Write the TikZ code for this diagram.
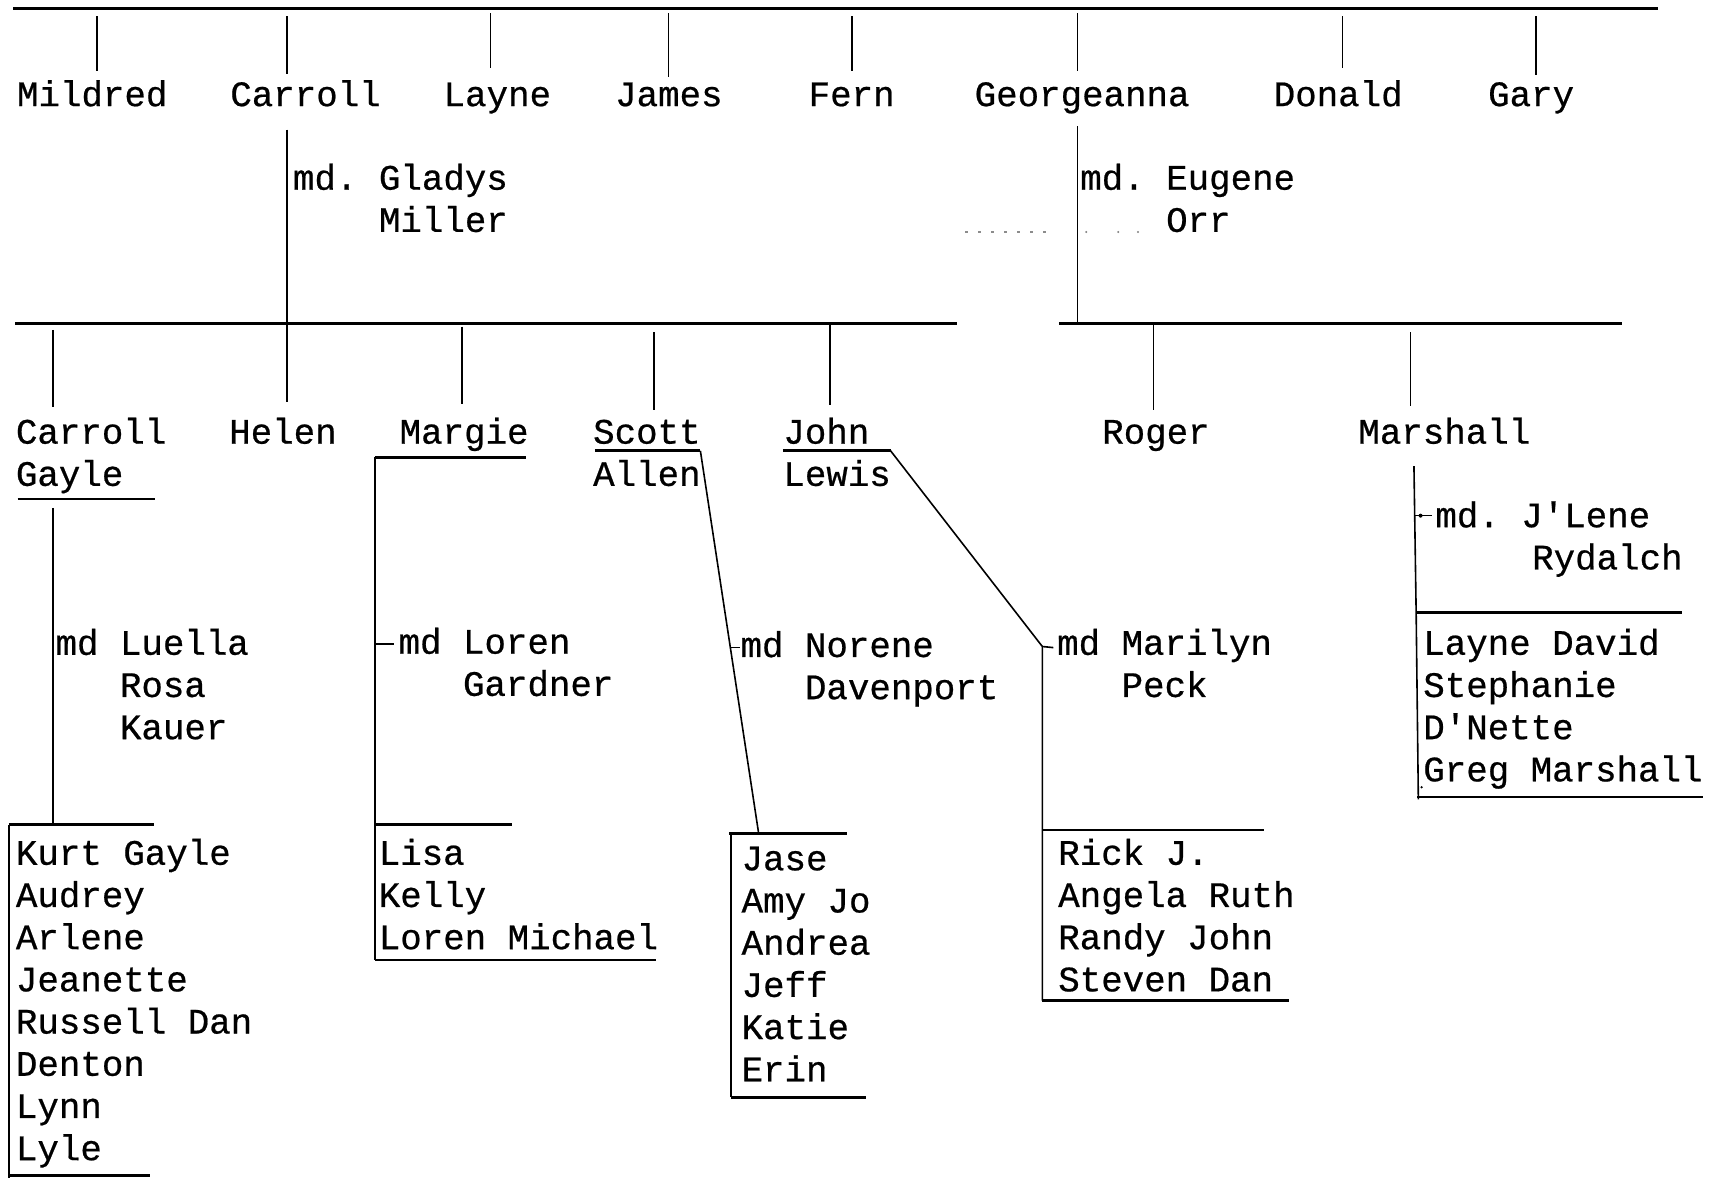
\documentclass[tikz,border=0pt]{standalone}
\usepackage{fontspec}
\setmonofont{Liberation Mono}[FakeBold=0.6]
\usetikzlibrary{calc}
\newcommand\Col[1]{\begin{tabular}[t]{@{}l@{}}#1\end{tabular}}
\begin{document}
\begin{tikzpicture}[x={(1.0995pt,0)}, y={(0,-1.0995pt)},
  nm/.style={anchor=base west, inner sep=0pt, outer sep=0pt,
    font=\ttfamily\fontsize{35.8pt}{42.2pt}\selectfont},
  hl/.style={line width=2.6pt},
  vl/.style={line width=1.6pt},
  faint/.style={draw=black!45, line width=1.2pt, dash pattern=on 3pt off 10pt}]
\useasboundingbox (0,0) rectangle (1568,1071);

% ---------- generation 1 ----------
\node[nm] (mildred) at (15.5,96.5) {Mildred};
\node[nm] (carroll) at (209.5,96.5) {Carroll};
\node[nm] (layne)   at (403.5,96.5) {Layne};
\node[nm] (james)   at (559.5,96.5) {James};
\node[nm] (fern)    at (735.5,96.5) {Fern};
\node[nm] (georg)   at (886.5,96.5) {Georgeanna};
\node[nm] (donald)  at (1158.5,96.5) {Donald};
\node[nm] (gary)    at (1353.5,96.5) {Gary};

\coordinate (topL) at (12,8);
\coordinate (topR) at (1508,8);
\draw[hl] (topL) -- (topR);
\foreach \n/\x/\a/\b in {mildred/88/15/65, carroll/261/15/67, layne/446/12/62,
    james/608/12/70, fern/775/15/65, georg/980/12/65, donald/1221/15/62, gary/1397/15/68}{
  \coordinate (\n-t) at (\x,\a);
  \coordinate (\n-b) at (\x,\b);
  \draw[vl] (\n-t) -- (\n-b);
}

% ---------- marriages of generation 1 ----------
\node[nm] (mdGladys) at (266.5,172.5) {\Col{md. Gladys\\\phantom{md. }Miller}};
\node[nm] (mdEugene) at (982.5,172.5) {\Col{md. Eugene\\\phantom{md. }Orr}};

\coordinate (lineAL) at (14,294);
\coordinate (lineAR) at (870,294);
\coordinate (lineBL) at (963,294);
\coordinate (lineBR) at (1475,294);
\coordinate (carDown) at (261,118);
\coordinate (carJoin) at (261,294);
\coordinate (geoDown) at (980,115);
\coordinate (geoJoin) at (980,294);
\draw[vl] (carDown) -- (carJoin);
\draw[vl] (geoDown) -- (geoJoin);
\draw[hl] (lineAL) -- (lineAR);
\draw[hl] (lineBL) -- (lineBR);

% faint stray marks
\draw[faint] (878,211) -- (952,211);
\foreach \x in {988,1017,1035}{ \fill[black!50] (\x,211) circle (1.1pt); }

% ---------- generation 2 ----------
\node[nm] (cgayle)   at (14.5,403.5)   {\Col{Carroll\\Gayle}};
\node[nm] (helen)    at (208.5,403.5)  {Helen};
\node[nm] (margie)   at (363.5,403.5)  {Margie};
\node[nm] (scott)    at (539.5,403.5)  {\Col{Scott\\Allen}};
\node[nm] (john)     at (712.5,403.5)  {\Col{John\\Lewis}};
\node[nm] (roger)    at (1002.5,403.5) {Roger};
\node[nm] (marshall) at (1235.5,403.5) {Marshall};

\foreach \n/\x/\a/\b in {cg/48/300/370, he/261/294/366, ma/420/297/367, sc/595/302/373,
    jo/755/296/368, ro/1049/296/373, mr/1283/302/369}{
  \coordinate (\n-t) at (\x,\a);
  \coordinate (\n-b) at (\x,\b);
  \draw[vl] (\n-t) -- (\n-b);
}

% ---------- Carroll Gayle branch ----------
\node[nm] (mdLuella) at (50.5,595.5) {\Col{md Luella\\\phantom{md }Rosa\\\phantom{md }Kauer}};
\node[nm] (kidsCG) at (14.5,786.5) {\Col{Kurt Gayle\\Audrey\\Arlene\\Jeanette\\Russell Dan\\Denton\\Lynn\\Lyle}};
\coordinate (cgU1) at (16,454);  \coordinate (cgU2) at (141,454);
\coordinate (cgV1) at (48,462);  \coordinate (cgV2) at (48,750);
\coordinate (cgB1) at (8,750);   \coordinate (cgB2) at (140,750);
\coordinate (cgB3) at (8,1071);  \coordinate (cgB4) at (8,1069); \coordinate (cgB5) at (136,1069);
\draw[hl] (cgU1) -- (cgU2);
\draw[vl] (cgV1) -- (cgV2);
\draw[hl] (cgB1) -- (cgB2);
\draw[vl] (cgB1) -- (cgB3);
\draw[hl] (cgB4) -- (cgB5);

% ---------- Margie branch ----------
\node[nm] (mdLoren) at (362.5,594.5) {\Col{md Loren\\\phantom{md }Gardner}};
\node[nm] (kidsM) at (344.5,786.5) {\Col{Lisa\\Kelly\\Loren Michael}};
\coordinate (mgU1) at (341,416); \coordinate (mgU2) at (478,416);
\coordinate (mgV2) at (341,873);
\coordinate (mgT)  at (341,586); \coordinate (mgT2) at (358,586);
\coordinate (mgK1) at (341,750); \coordinate (mgK2) at (466,750);
\coordinate (mgB2) at (597,873);
\draw[hl] (mgU1) -- (mgU2);
\draw[vl] (mgU1) -- (mgV2);
\draw[line width=2pt] (mgT) -- (mgT2);
\draw[hl] (mgK1) -- (mgK2);
\draw[hl] (mgV2) -- (mgB2);

% ---------- Scott branch ----------
\node[nm] (mdNorene) at (673.5,597.5) {\Col{md Norene\\\phantom{md }Davenport}};
\node[nm] (kidsS) at (674.5,791.5) {\Col{Jase\\Amy Jo\\Andrea\\Jeff\\Katie\\Erin}};
\coordinate (scU1) at (541,410); \coordinate (scU2) at (637,410);
\coordinate (scD)  at (690,758);
\coordinate (scT1) at (664,589); \coordinate (scT2) at (673,589);
\coordinate (scK1) at (663,758); \coordinate (scK2) at (770,758);
\coordinate (scK3) at (665,998); \coordinate (scK4) at (788,998);
\draw[hl] (scU1) -- (scU2);
\draw[vl] (scU2) -- (scD);
\draw[vl] (scT1) -- (scT2);
\draw[hl] (scK1) -- (scK2);
\draw[vl] (665,758) -- (scK3);
\draw[hl] (scK3) -- (scK4);

% ---------- John branch ----------
\node[nm] (mdMarilyn) at (961.5,595.5) {\Col{md Marilyn\\\phantom{md }Peck}};
\node[nm] (kidsJ) at (962.5,786.5) {\Col{Rick J.\\Angela Ruth\\Randy John\\Steven Dan}};
\coordinate (joU1) at (712,410); \coordinate (joU2) at (810,410);
\coordinate (joC)  at (948,588);
\coordinate (joT)  at (958,589);
\coordinate (joK1) at (948,755); \coordinate (joK2) at (1150,755);
\coordinate (joB1) at (948,910); \coordinate (joB2) at (1172,910);
\draw[hl] (joU1) -- (joU2);
\draw[vl] (joU2) -- (joC) -- (joB1);
\draw[vl] (joC) -- (joT);
\draw[hl] (joK1) -- (joK2);
\draw[hl] (joB1) -- (joB2);

% ---------- Marshall branch ----------
\node[nm] (mdJLene) at (1305.5,479.5) {\Col{md. J'Lene\\\hspace*{96.8pt}Rydalch}};
\node[nm] (kidsMa) at (1294.5,595.5) {\Col{Layne David\\Stephanie\\D'Nette\\Greg Marshall}};
\coordinate (msV1) at (1286,424); \coordinate (msV2) at (1288,557);
\coordinate (msV3) at (1290,727);
\coordinate (msT1) at (1287,469); \coordinate (msT2) at (1302,469);
\coordinate (msH2) at (1530,557);
\coordinate (msB2) at (1549,725);
\draw[vl] (msV1) -- (msV2) -- (msV3);
\draw[line width=1.3pt] (msT1) -- (msT2);
\fill (1292,469) circle (2pt);
\draw[hl] (msV2) -- (msH2);
\draw[hl] (1289,725) -- (msB2);
\fill (1293,716) circle (1.3pt);
\end{tikzpicture}
\end{document}
